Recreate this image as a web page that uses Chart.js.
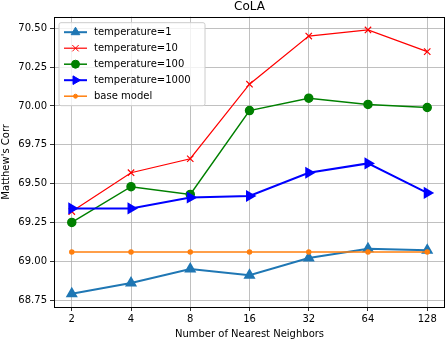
<!DOCTYPE html>
<html>
<head>
<meta charset="utf-8">
<script src="https://cdn.jsdelivr.net/npm/chart.js@4/dist/chart.umd.min.js"></script>
<style>
  html, body { margin: 0; padding: 0; background: #fff; }
  #wrap { width: 446px; height: 340px; }
</style>
</head>
<body>
<div id="wrap"><canvas id="colaChart" width="446" height="340"></canvas></div>
<script>
// dados
const neighbors = ['2', '4', '8', '16', '32', '64', '128'];
const temp1 = [68.79, 68.86, 68.95, 68.91, 69.02, 69.08, 69.07];
const temp10 = [69.32, 69.57, 69.66, 70.14, 70.45, 70.49, 70.35];
const temp100 = [69.25, 69.48, 69.43, 69.97, 70.05, 70.01, 69.99];
const temp1000 = [69.34, 69.34, 69.41, 69.42, 69.57, 69.63, 69.44];
const baseModel = [69.06, 69.06, 69.06, 69.06, 69.06, 69.06, 69.06];
const yTicks = [68.75, 69.00, 69.25, 69.50, 69.75, 70.00, 70.25, 70.50];

const FONT = 'DejaVu Sans';
const toPoints = arr => arr.map((v, i) => ({ x: i, y: v }));

// legenda desenhada dentro da área do gráfico + moldura
const insideLegend = {
    id: 'insideLegend',
    afterDraw(chart) {
        const ctx = chart.ctx;
        const a = chart.chartArea;
        ctx.save();
        ctx.strokeStyle = '#000';
        ctx.lineWidth = 1;
        ctx.strokeRect(Math.round(a.left) + 0.5, Math.round(a.top) + 0.5,
            Math.round(a.right - a.left) - 1, Math.round(a.bottom - a.top));

        const x0 = a.left + 5, y0 = a.top + 6, w = 146, h = 83;
        ctx.globalAlpha = 0.8;
        ctx.fillStyle = '#fff';
        ctx.beginPath();
        ctx.roundRect(x0, y0, w, h, 2);
        ctx.fill();
        ctx.globalAlpha = 1;
        ctx.strokeStyle = '#cccccc';
        ctx.lineWidth = 1;
        ctx.stroke();

        ctx.font = '10px "' + FONT + '"';
        ctx.textBaseline = 'middle';
        chart.data.datasets.forEach((ds, i) => {
            const y = y0 + 9.5 + i * 16;
            ctx.strokeStyle = ds.borderColor;
            ctx.fillStyle = ds.backgroundColor;
            ctx.lineWidth = ds.borderWidth;
            ctx.beginPath();
            ctx.moveTo(x0 + 5, y);
            ctx.lineTo(x0 + 28, y);
            ctx.stroke();
            ctx.lineWidth = 1;
            Chart.helpers.drawPoint(ctx, {
                pointStyle: ds.pointStyle,
                rotation: ds.pointRotation || 0,
                radius: ds.pointRadius,
                borderWidth: 1
            }, x0 + 16.5, y);
            ctx.fillStyle = '#000';
            ctx.fillText(ds.label, x0 + 35, y + 0.5);
        });
        ctx.restore();
    }
};

const ctx = document.getElementById('colaChart').getContext('2d');
new Chart(ctx, {
    type: 'line',
    data: {
        datasets: [
            {
                label: 'temperature=1',
                data: toPoints(temp1),
                borderColor: '#1f77b4',
                backgroundColor: '#1f77b4',
                borderWidth: 2,
                pointStyle: 'triangle',
                pointRadius: 5,
                order: 4
            },
            {
                label: 'temperature=10',
                data: toPoints(temp10),
                borderColor: '#ff0000',
                backgroundColor: '#ff0000',
                borderWidth: 1.2,
                pointStyle: 'crossRot',
                pointRadius: 4.5,
                order: 3
            },
            {
                label: 'temperature=100',
                data: toPoints(temp100),
                borderColor: '#008000',
                backgroundColor: '#008000',
                borderWidth: 1.5,
                pointStyle: 'circle',
                pointRadius: 4,
                order: 2
            },
            {
                label: 'temperature=1000',
                data: toPoints(temp1000),
                borderColor: '#0000ff',
                backgroundColor: '#0000ff',
                borderWidth: 2,
                pointStyle: 'triangle',
                pointRotation: 90,
                pointRadius: 5,
                order: 1
            },
            {
                label: 'base model',
                data: toPoints(baseModel),
                borderColor: '#ff7f0e',
                backgroundColor: '#ff7f0e',
                borderWidth: 1.5,
                pointStyle: 'circle',
                pointRadius: 2,
                order: 0
            }
        ]
    },
    options: {
        responsive: false,
        animation: false,
        layout: { autoPadding: false, padding: { left: 0, right: 1, top: 0, bottom: 0 } },
        plugins: {
            legend: { display: false },
            tooltip: { enabled: false },
            title: {
                display: true,
                text: 'CoLA',
                fullSize: false,
                color: '#000',
                font: { family: FONT, size: 12, weight: 'normal' },
                padding: { top: 0, bottom: 2.3 }
            }
        },
        elements: {
            line: { tension: 0 },
            point: { borderWidth: 1 }
        },
        scales: {
            x: {
                type: 'linear',
                min: -0.3,
                max: 6.3,
                afterBuildTicks: scale => {
                    scale.ticks = neighbors.map((_, i) => ({ value: i }));
                },
                afterFit: scale => {
                    scale.height = 33;
                    scale.paddingLeft = 0;
                    scale.paddingRight = 0;
                },
                ticks: {
                    color: '#000',
                    font: { family: FONT, size: 10 },
                    padding: 2,
                    maxRotation: 0,
                    callback: v => neighbors[v]
                },
                grid: { color: '#b0b0b0', lineWidth: 0.8, tickColor: '#000', tickLength: 4 },
                border: { display: false },
                title: {
                    display: true,
                    text: 'Number of Nearest Neighbors',
                    color: '#000',
                    font: { family: FONT, size: 10 },
                    padding: { top: 3, bottom: 0 }
                }
            },
            y: {
                min: 68.705,
                max: 70.575,
                afterBuildTicks: scale => {
                    scale.ticks = yTicks.map(v => ({ value: v }));
                },
                afterFit: scale => {
                    scale.width = 54;
                    scale.paddingTop = 0;
                    scale.paddingBottom = 0;
                },
                ticks: {
                    color: '#000',
                    font: { family: FONT, size: 10 },
                    padding: 3,
                    callback: v => v.toFixed(2)
                },
                grid: { color: '#b0b0b0', lineWidth: 0.8, tickColor: '#000', tickLength: 4 },
                border: { display: false },
                title: {
                    display: true,
                    text: "Matthew's Corr",
                    color: '#000',
                    font: { family: FONT, size: 10 },
                    padding: { top: 0, bottom: 0 }
                }
            }
        }
    },
    plugins: [insideLegend]
});
</script>
</body>
</html>
